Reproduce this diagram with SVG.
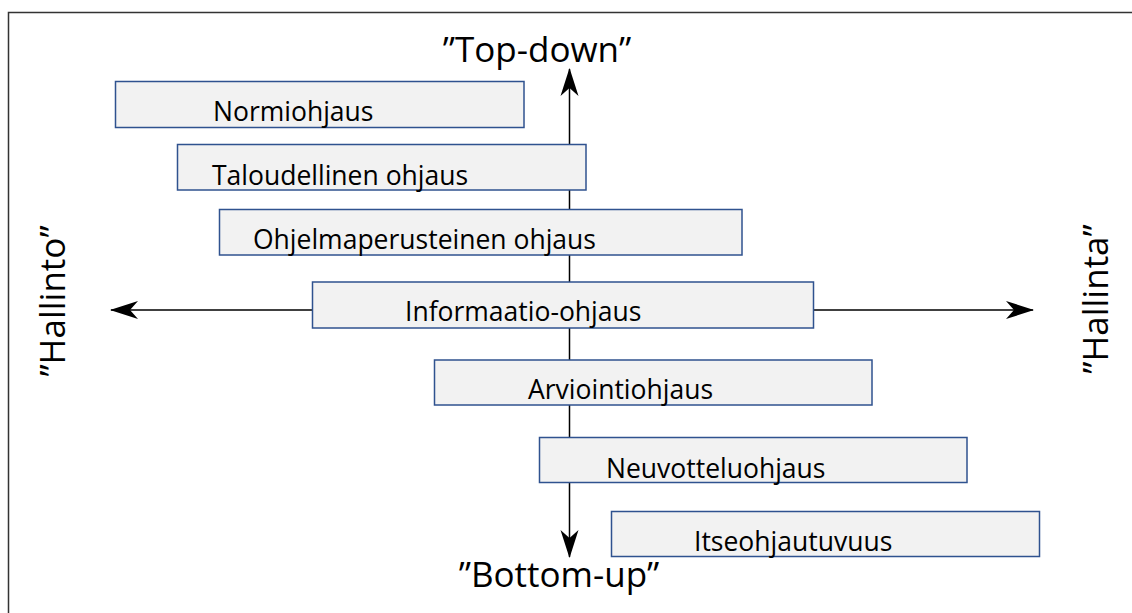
<svg xmlns="http://www.w3.org/2000/svg" width="1132" height="613" viewBox="0 0 1132 613">
<style>
.box{fill:#F2F2F2;stroke:#2F528F;stroke-width:1.5}
.lbl{font-family:"Open Sans","Liberation Sans",sans-serif;font-size:26.5px;fill:#000}
.ax{font-family:"Open Sans","Liberation Sans",sans-serif;font-size:35px;fill:#000}
.axis{stroke:#000;stroke-width:1.5;fill:none;marker-start:url(#arr);marker-end:url(#arr)}
</style>
<defs>
<marker id="arr" viewBox="0 0 28 20" refX="27" refY="10" markerWidth="28" markerHeight="20" markerUnits="userSpaceOnUse" orient="auto-start-reverse">
<path d="M0,1 L28,10 L0,19 L8,10 Z" fill="#000"/>
</marker>
</defs>
<rect x="8.5" y="12.5" width="1130" height="610" fill="#fff" stroke="#333" stroke-width="1.5"/>
<g id="connectors">
<line class="axis" x1="569.5" y1="557" x2="569.5" y2="69"/>
<line class="axis" x1="1033" y1="310" x2="111" y2="310"/>
</g>
<g id="normiohjaus"><rect class="box" x="115.5" y="81.5" width="408.5" height="46"/><text class="lbl" x="213" y="121">Normiohjaus</text></g>
<g id="taloudellinen"><rect class="box" x="177.5" y="144.5" width="408.5" height="45.5"/><text class="lbl" x="212" y="185">Taloudellinen ohjaus</text></g>
<g id="ohjelmaperusteinen"><rect class="box" x="219.5" y="209.5" width="522.5" height="45.5"/><text class="lbl" x="253" y="249">Ohjelmaperusteinen ohjaus</text></g>
<g id="informaatio"><rect class="box" x="312.5" y="282" width="501" height="46"/><text class="lbl" x="405" y="321">Informaatio-ohjaus</text></g>
<g id="arviointi"><rect class="box" x="434.5" y="360" width="437.5" height="45"/><text class="lbl" x="528" y="399">Arviointiohjaus</text></g>
<g id="neuvottelu"><rect class="box" x="539.5" y="437.5" width="427.5" height="45"/><text class="lbl" x="606" y="478">Neuvotteluohjaus</text></g>
<g id="itseohjautuvuus"><rect class="box" x="611.5" y="511.5" width="428" height="45"/><text class="lbl" x="694" y="551">Itseohjautuvuus</text></g>
<g id="labels">
<text class="ax" x="537" y="62" text-anchor="middle">”Top-down”</text>
<text class="ax" x="559" y="587" text-anchor="middle">”Bottom-up”</text>
<text class="ax" transform="translate(65,301) rotate(-90)" text-anchor="middle">”Hallinto”</text>
<text class="ax" transform="translate(1108,299) rotate(-90)" text-anchor="middle">”Hallinta”</text>
</g>
</svg>
